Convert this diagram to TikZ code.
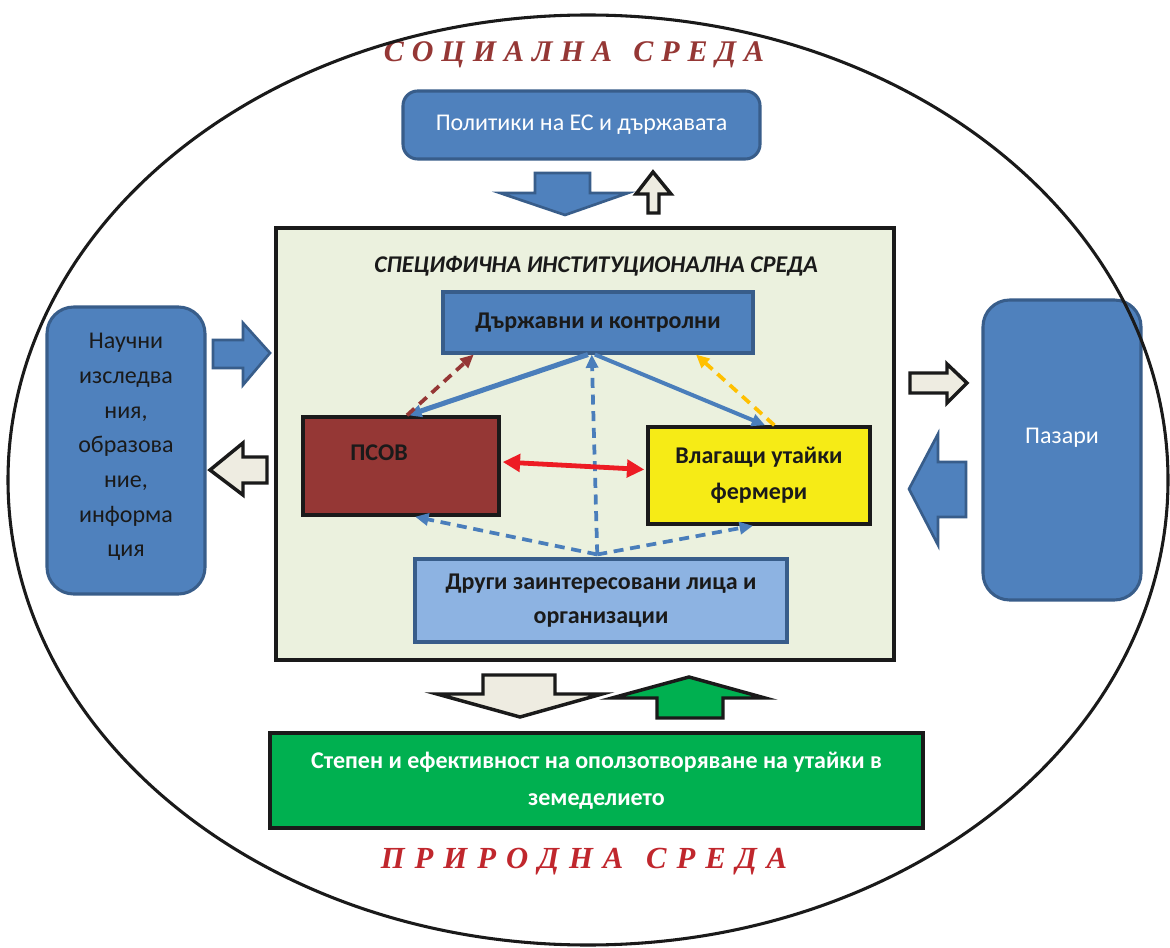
\documentclass[tikz,border=0pt]{standalone}
\usepackage{fontspec}
\setmainfont{Carlito}
\newfontfamily\ttlfont{Liberation Serif}
\usetikzlibrary{arrows.meta,calc}
\definecolor{blueF}{HTML}{4F81BD}
\definecolor{blueD}{HTML}{385D8A}
\definecolor{innerF}{HTML}{EBF1DE}
\definecolor{psovF}{HTML}{953735}
\definecolor{yelF}{HTML}{F6EB16}
\definecolor{ltblue}{HTML}{8DB3E2}
\definecolor{grnF}{HTML}{00B050}
\definecolor{creamF}{HTML}{EEECE1}
\definecolor{redA}{HTML}{953735}
\definecolor{redB}{HTML}{C0272D}
\definecolor{arrRed}{HTML}{ED1C24}
\definecolor{orngC}{HTML}{FFC000}
\definecolor{txtD}{HTML}{1A1A1A}
\definecolor{lineBlue}{HTML}{4A7EBB}
\newcommand\gA{\kern6pt}
\newcommand\gB{\kern7.5pt}
\begin{document}
\begin{tikzpicture}[x=0.75pt,y=-0.75pt,
  basebox/.style={inner sep=0pt, line width=2.3pt, align=center},
  bluebox/.style={basebox, draw=blueD, fill=blueF, text=white, font=\fontsize{18}{26}\selectfont},
  rbluebox/.style={bluebox, rounded corners=20pt},
  blackbox/.style={basebox, draw=txtD, line width=2.6pt, text=txtD, font=\bfseries\fontsize{18}{27}\selectfont},
  boldtxt/.style={text=txtD, font=\bfseries\fontsize{18}{27}\selectfont, align=center},
  plaintxt/.style={font=\fontsize{18}{26}\selectfont, align=center},
  serifttl/.style={font=\ttlfont\bfseries\itshape\fontsize{22.5}{26}\selectfont},
  blockblue/.style={draw=blueD, fill=blueF, line width=2pt, line join=miter},
  blockcream/.style={draw=txtD, fill=creamF, line width=2.6pt, line join=miter},
  blockgreen/.style={draw=txtD, fill=grnF, line width=2.6pt, line join=miter},
  solidtip/.style={-{Triangle[length=10pt,width=9pt]}},
  dashconn/.style={solidtip, line width=2.8pt, dash pattern=on 7.5pt off 5pt},
]
\useasboundingbox (0,0) rectangle (1170,948);
\fill[white] (0,0) rectangle (1170,948);

% titles
\node[serifttl, text=redA] (soc) at (574,55) {С\gA О\gA Ц\gA И\gA А\gA Л\gA Н\gA А\kern16pt С\gA Р\gA Е\gA Д\gA А};
\node[serifttl, text=redB, font=\ttlfont\bfseries\itshape\fontsize{23}{26}\selectfont] (prir) at (584,862) {П\gB Р\gB И\gB Р\gB О\gB Д\gB Н\gB А\kern17pt С\gB Р\gB Е\gB Д\gB А};

% top policy box
\node[rbluebox, rounded corners=11pt, minimum width=267.75pt, minimum height=51pt] (pol) at (581.5,125) {Политики на ЕС и държавата};

% block arrows top
\draw[blockblue] (535,173) -- (590,173) -- (590,193) -- (628,193) -- (565,215) -- (500,193) -- (535,193) -- cycle;
\draw[blockcream] (653,172) -- (671,194) -- (659,194) -- (659,213) -- (648,213) -- (648,194) -- (636,194) -- cycle;

% inner environment
\node[basebox, draw=txtD, line width=2.4pt, fill=innerF, minimum width=463.5pt, minimum height=324pt] (inner) at (585,444) {};
\node[text=txtD, font=\bfseries\itshape\fontsize{18}{22}\selectfont] (innerttl) at (596,266) {СПЕЦИФИЧНА ИНСТИТУЦИОНАЛНА СРЕДА};

\node[bluebox, text=txtD, font=\bfseries\fontsize{18}{27}\selectfont, minimum width=232.5pt, minimum height=45.75pt] (dk) at (598,322.5) {Държавни и контролни};
\node[blackbox, fill=psovF, minimum width=147pt, minimum height=73.5pt] (psov) at (401,466) {};
\node[boldtxt] (psovtxt) at (379,453) {ПСОВ};
\node[blackbox, fill=yelF, minimum width=166.5pt, minimum height=72.75pt] (vl) at (759,475.5) {Влагащи утайки\\фермери};
\node[basebox, draw=blueD, fill=ltblue, text=txtD, font=\bfseries\fontsize{18}{25.5}\selectfont, minimum width=279pt, minimum height=62.25pt] (dr) at (601,600.5) {Други заинтересовани лица и\\организации};

% connectors inside
\draw[lineBlue, line width=3.8pt, solidtip] ($(dk.south west)!0.468!(dk.south east)$) -- ($(psov.north west)!0.536!(psov.north east)$);
\draw[lineBlue, line width=3pt, solidtip] ($(dk.south west)!0.49!(dk.south east)$) -- ($(vl.north west)!0.527!(vl.north east)$);
\draw[redA, dashconn] ($(psov.north west)!0.53!(psov.north east)$) -- ($(dk.south west)!0.103!(dk.south east)$);
\draw[orngC, dashconn] ($(vl.north west)!0.568!(vl.north east)$) -- ($(dk.south west)!0.813!(dk.south east)$);
\coordinate (drtop) at ($(dr.north west)!0.49!(dr.north east)+(0,-3)$);
\draw[lineBlue, dashconn] (drtop) -- ($(dk.south west)!0.48!(dk.south east)$);
\draw[lineBlue, dashconn] (drtop) -- ($(psov.south west)!0.571!(psov.south east)$);
\draw[lineBlue, dashconn] (drtop) -- ($(vl.south west)!0.473!(vl.south east)$);
\draw[arrRed, line width=3.6pt, {Triangle[length=13pt,width=13pt]}-{Triangle[length=13pt,width=13pt]}] ($(psov.east)+(2,-4)$) -- ($(vl.west)+(-2,-6)$);

% left box
\node[rbluebox, minimum width=118.5pt, minimum height=215.25pt] (sci) at (126,450.5) {};
\node[plaintxt, text=txtD] (scitxt) at (126,447) {Научни\\изследва\\ния,\\образова\\ние,\\информа\\ция};
\draw[blockblue] (213,340) -- (243,340) -- (243,323) -- (270,353) -- (243,385) -- (243,368) -- (213,368) -- cycle;
\draw[blockcream] (210,470) -- (243,443) -- (243,457) -- (267,457) -- (267,483) -- (243,483) -- (243,495) -- cycle;

% right box
\node[rbluebox, minimum width=118.5pt, minimum height=225pt] (mkt) at (1062,450) {};
\node[plaintxt, text=white] (mkttxt) at (1062,438) {Пазари};
\draw[blockcream] (910,373) -- (947,373) -- (947,364) -- (967,383) -- (947,403) -- (947,393) -- (910,393) -- cycle;
\draw[blockblue] (909,489) -- (938,434) -- (938,462) -- (966,462) -- (966,517) -- (938,517) -- (938,545) -- cycle;

% bottom arrows
\draw[blockcream] (483,675) -- (555,675) -- (555,694) -- (602,694) -- (520,717) -- (437,694) -- (483,694) -- cycle;
\draw[blockgreen] (689,677) -- (765,698) -- (723,698) -- (723,718) -- (657,718) -- (657,698) -- (612,698) -- cycle;

% green result box
\node[basebox, draw=txtD, line width=2.6pt, fill=grnF, text=white, font=\bfseries\fontsize{18}{27.75}\selectfont, minimum width=489.75pt, minimum height=71.25pt] (res) at (596.5,780.5) {Степен и ефективност на оползотворяване на утайки в\\земеделието};

% outer ellipse
\draw[txtD, line width=2.3pt] (588,480) ellipse [x radius=435pt, y radius=348.75pt];
\end{tikzpicture}
\end{document}
